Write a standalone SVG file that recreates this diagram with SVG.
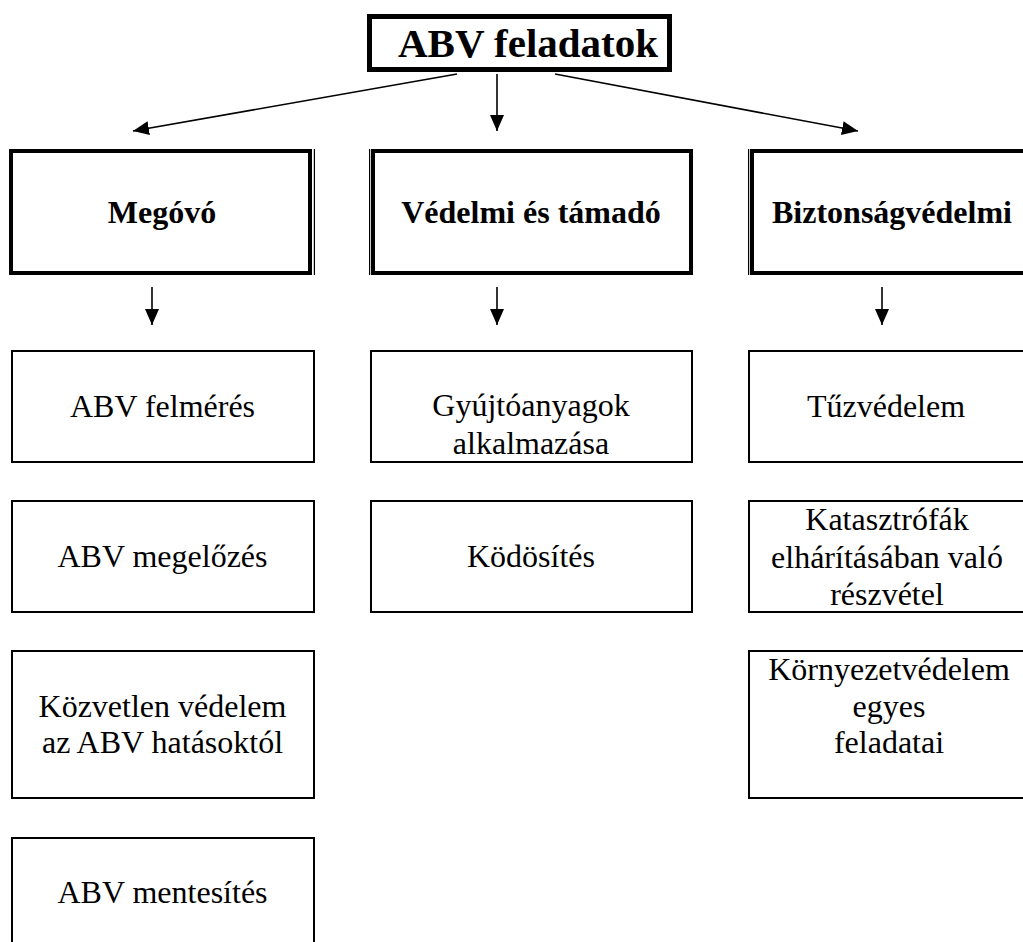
<svg xmlns="http://www.w3.org/2000/svg" width="1023" height="942" viewBox="0 0 1023 942">
<style>
  .bg { fill: #ffffff; }
  .title { fill: none; stroke: #000; stroke-width: 5; }
  .cat { fill: none; stroke: #000; stroke-width: 4; }
  .thin { stroke: #000; stroke-width: 1.2; }
  .box { fill: none; stroke: #000; stroke-width: 2; }
  .conn { stroke: #000; stroke-width: 1.6; fill: none; marker-end: url(#ah); }
  text { font-family: "Liberation Serif", "Times New Roman", serif; fill: #000; text-anchor: middle; }
  .t-title { font-size: 41px; font-weight: bold; }
  .t-cat { font-size: 32px; font-weight: bold; }
  .t-box { font-size: 32px; }
</style>
<defs>
  <marker id="ah" markerUnits="userSpaceOnUse" markerWidth="16" markerHeight="16" viewBox="0 0 16 16" refX="16" refY="8" orient="auto">
    <path d="M0,1 L16,8 L0,15 z" fill="#000"/>
  </marker>
</defs>
<rect class="bg" x="0" y="0" width="1023" height="942"/>

<g id="connectors">
  <line class="conn" x1="457" y1="74" x2="133" y2="131"/>
  <line class="conn" x1="497" y1="74" x2="497" y2="131"/>
  <line class="conn" x1="555" y1="74" x2="858" y2="131"/>
  <line class="conn" x1="152" y1="287" x2="152" y2="325"/>
  <line class="conn" x1="497" y1="287" x2="497" y2="325"/>
  <line class="conn" x1="882" y1="287" x2="882" y2="325"/>
</g>

<g id="node-title">
  <rect class="title" x="369.5" y="16.5" width="300" height="53"/>
  <text class="t-title" x="528" y="57">ABV feladatok</text>
</g>

<g id="node-megovo">
  <rect class="cat" x="11" y="151" width="299" height="122"/>
  <line class="thin" x1="314.4" y1="149" x2="314.4" y2="275"/>
  <text class="t-cat" x="162" y="223">Megóvó</text>
</g>
<g id="node-vedelmi">
  <rect class="cat" x="373" y="151" width="318" height="122"/>
  <line class="thin" x1="369.6" y1="149" x2="369.6" y2="275"/>
  <text class="t-cat" x="531" y="223">Védelmi és támadó</text>
</g>
<g id="node-biztonsag">
  <rect class="cat" x="752" y="151" width="290" height="122"/>
  <line class="thin" x1="748.6" y1="149" x2="748.6" y2="275"/>
  <text class="t-cat" x="892" y="223">Biztonságvédelmi</text>
</g>

<g id="node-felmeres">
  <rect class="box" x="12" y="351" width="302" height="111"/>
  <text class="t-box" x="162.5" y="417">ABV felmérés</text>
</g>
<g id="node-megelozes">
  <rect class="box" x="12" y="501" width="302" height="111"/>
  <text class="t-box" x="162.5" y="567">ABV megelőzés</text>
</g>
<g id="node-kozvetlen">
  <rect class="box" x="12" y="651" width="302" height="147"/>
  <text class="t-box" x="162.5" y="717">Közvetlen védelem</text>
  <text class="t-box" x="162.5" y="753">az ABV hatásoktól</text>
</g>
<g id="node-mentesites">
  <rect class="box" x="12" y="838" width="302" height="120"/>
  <text class="t-box" x="162.5" y="903">ABV mentesítés</text>
</g>

<g id="node-gyujto">
  <rect class="box" x="371" y="351" width="321" height="111"/>
  <text class="t-box" x="531" y="416">Gyújtóanyagok</text>
  <text class="t-box" x="531" y="454">alkalmazása</text>
</g>
<g id="node-kodosites">
  <rect class="box" x="371" y="501" width="321" height="111"/>
  <text class="t-box" x="531" y="567">Ködösítés</text>
</g>

<g id="node-tuz">
  <rect class="box" x="749" y="351" width="290" height="111"/>
  <text class="t-box" x="886" y="417">Tűzvédelem</text>
</g>
<g id="node-katasztrofa">
  <rect class="box" x="749" y="501" width="290" height="111"/>
  <text class="t-box" x="887" y="530">Katasztrófák</text>
  <text class="t-box" x="887" y="568">elhárításában való</text>
  <text class="t-box" x="887" y="605">részvétel</text>
</g>
<g id="node-kornyezet">
  <rect class="box" x="749" y="651" width="290" height="147"/>
  <text class="t-box" x="889" y="680">Környezetvédelem</text>
  <text class="t-box" x="889" y="717">egyes</text>
  <text class="t-box" x="889" y="753">feladatai</text>
</g>
</svg>
